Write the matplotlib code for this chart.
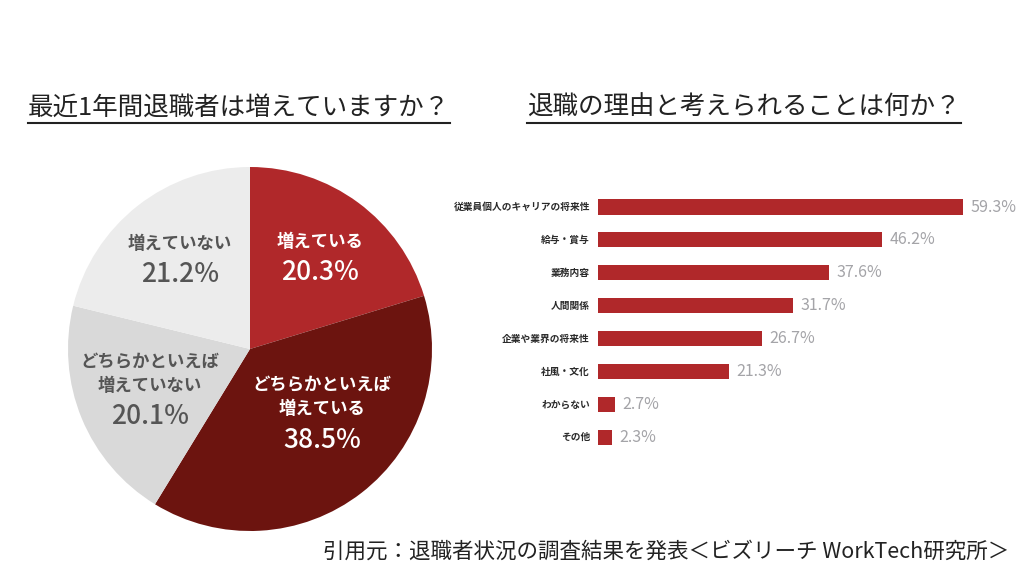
import numpy as np
import matplotlib
matplotlib.use("Agg")
import matplotlib.pyplot as plt
from matplotlib.lines import Line2D

plt.rcParams['font.family'] = ['Noto Sans CJK JP', 'DejaVu Sans']

# データ（円グラフ）
pie_labels = ["増えている", "どちらかといえば\n増えている", "どちらかといえば\n増えていない", "増えていない"]
pie_values = [20.3, 38.5, 20.1, 21.2]

# データ（棒グラフ）
reasons = ["従業員個人のキャリアの将来性", "給与・賞与", "業務内容", "人間関係",
           "企業や業界の将来性", "社風・文化", "わからない", "その他"]
reason_values = [59.3, 46.2, 37.6, 31.7, 26.7, 21.3, 2.7, 2.3]

title_left = "最近1年間退職者は増えていますか？"
title_right = "退職の理由と考えられることは何か？"
source = "引用元：退職者状況の調査結果を発表＜ビズリーチ WorkTech研究所＞"

W, H = 1024, 576
fig = plt.figure(figsize=(W / 100, H / 100), dpi=100)
fig.patch.set_facecolor("white")

# 円グラフ
cx, cy, r = 250, 349, 182
ax1 = fig.add_axes([(cx - r) / W, (H - cy - r) / H, 2 * r / W, 2 * r / H])
pie_colors = ["#b0282a", "#6c140f", "#d9d9d9", "#ececec"]
ax1.pie(pie_values, colors=pie_colors, startangle=90, counterclock=False,
        wedgeprops=dict(linewidth=0))
ax1.set_xlim(-1, 1)
ax1.set_ylim(-1, 1)
ax1.set_aspect("equal")

# ラベル位置（%の中心, 円の中心からのピクセル）
txt_colors = ["white", "white", "#555555", "#555555"]
pct_pos = [(70, 76), (72, -91), (-100, -68), (-70, 74)]
for lab, val, col, (dx, dy) in zip(pie_labels, pie_values, txt_colors, pct_pos):
    x, y = dx / r, dy / r
    ax1.text(x, y, f"{val}%", ha="center", va="center", color=col,
             fontsize=19, fontweight="medium")
    lines = lab.split("\n")
    for i, line in enumerate(reversed(lines)):
        ax1.annotate(line, (x, y), xytext=(0, (31 + 24 * i) * 0.72),
                     textcoords="offset points", ha="center", va="center",
                     color=col, fontsize=12.5, fontweight="bold")

# 棒グラフ
x0 = 598
px_per = 6.155
xmax = 68
n = len(reasons)
step = 32.9
top = 207 - step / 2
ax2 = fig.add_axes([x0 / W, (H - top - n * step) / H, xmax * px_per / W, n * step / H])
ypos = np.arange(n)
ax2.barh(ypos, reason_values, height=0.46, color="#b0282a")
ax2.set_xlim(0, xmax)
ax2.set_ylim(n - 0.5, -0.5)
ax2.axis("off")
for yy, v, lab in zip(ypos, reason_values, reasons):
    ax2.text(v + 1.2, yy, f"{v}%", va="center", ha="left", color="#a4a4a8", fontsize=11.5)
    ax2.text(-1.3, yy, lab, va="center", ha="right", color="#2a2a2a",
             fontsize=7, fontweight="bold")

# タイトル（下線付き）
t1 = fig.text(28 / W, 1 - 108 / H, title_left, ha="left", va="center",
              fontsize=18.4, color="#222222")
t2 = fig.text(527 / W, 1 - 108 / H, title_right, ha="left", va="center",
              fontsize=18.4, color="#222222")
fig.text(323 / W, 1 - 552 / H, source, ha="left", va="center",
         fontsize=15.5, color="#222222")

fig.canvas.draw()
rend = fig.canvas.get_renderer()
for t in (t1, t2):
    bb = t.get_window_extent(renderer=rend)
    yline = 1 - 122.5 / H
    fig.add_artist(Line2D([bb.x0 / W, bb.x1 / W], [yline, yline],
                          color="#222222", linewidth=1.5, transform=fig.transFigure))

fig.savefig("out.png", dpi=100, facecolor="white")
